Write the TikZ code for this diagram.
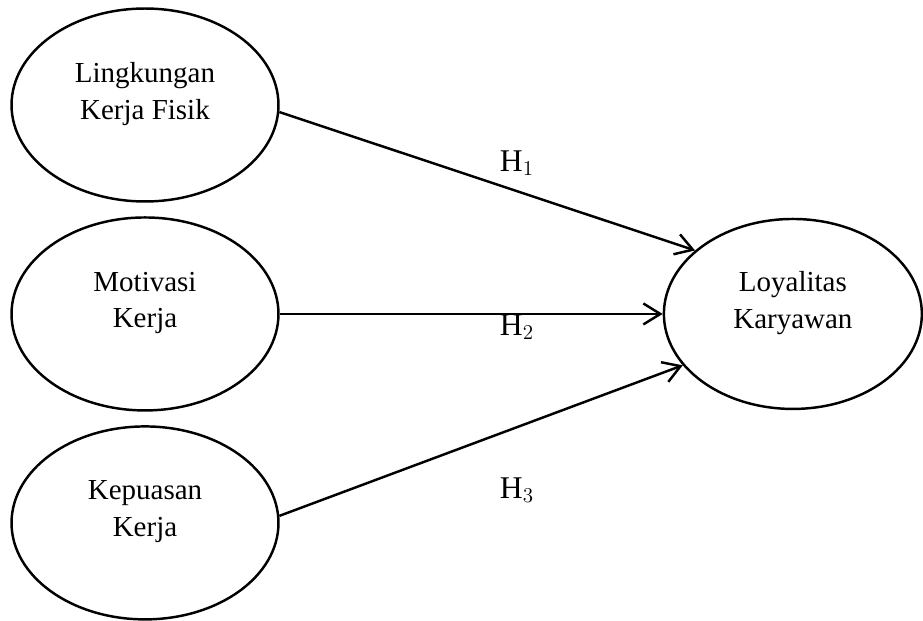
\documentclass[tikz,border=0pt]{standalone}
\usepackage{fontspec}
\setmainfont{Liberation Serif}
\usetikzlibrary{shapes.geometric, arrows.meta, positioning}
\tikzstyle{latent} = [ellipse, draw=black, line width=1.4pt, minimum width=5.34cm, minimum height=3.86cm, inner sep=0pt, align=center, font=\fontsize{16.5}{21}\selectfont, text depth=16pt]
\tikzstyle{hyp} = [font=\fontsize{18}{20}\selectfont]
\tikzstyle{arrow} = [line width=1.4pt, ->, >={Straight Barb[length=0.34cm, width=0.42cm, line width=1.4pt]}]

\begin{document}
\begin{tikzpicture}[x=0.02cm, y=-0.02cm, node distance=4.18cm]
    \useasboundingbox (0,0) rectangle (923,621);
    \node (lingkungan) [latent] at (145,105) {Lingkungan\\Kerja Fisik};
    \node (motivasi) [latent, below of = lingkungan] {Motivasi\\Kerja};
    \node (kepuasan) [latent, below of = motivasi] {Kepuasan\\Kerja};
    \node (loyalitas) [latent, right of = motivasi, xshift = 8.78cm, minimum width=5.16cm, minimum height=3.8cm] {Loyalitas\\Karyawan};
    \node (h1) [hyp] at (517,163) {H$_1$};
    \node (h2) [hyp] at (517,327) {H$_2$};
    \node (h3) [hyp] at (517,490) {H$_3$};
    \draw [arrow] (lingkungan.-3) -- (loyalitas.147);
    \draw [arrow] (motivasi.east) -- (loyalitas.west);
    \draw [arrow] (kepuasan.3) -- (loyalitas.205);
\end{tikzpicture}
\end{document}
